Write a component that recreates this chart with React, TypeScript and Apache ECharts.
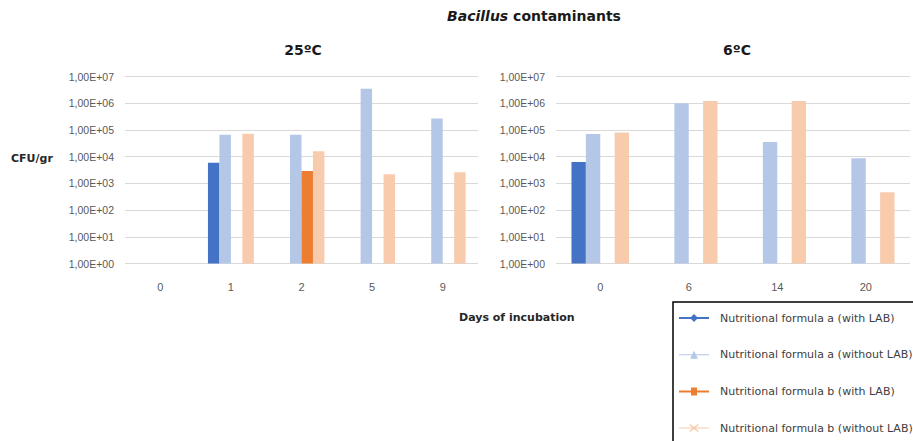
import React, { useEffect, useRef } from "react";
import * as echarts from "echarts";

const daysWarm = ["0", "1", "2", "5", "9"];
const daysCold = ["0", "6", "14", "20"];
const seriesNames = [
  "Nutritional formula a (with LAB)",
  "Nutritional formula a (without LAB)",
  "Nutritional formula b (with LAB)",
  "Nutritional formula b (without LAB)",
];
const colors = ["#4472C4", "#B4C7E7", "#ED7D31", "#F8CBAD"];

// 25ºC
const warmAWith = [null, 5.9e3, null, null, null];
const warmAWithout = [null, 6.6e4, 6.6e4, 3.5e6, 2.7e5];
const warmBWith = [null, null, 2.9e3, null, null];
const warmBWithout = [null, 7.2e4, 1.6e4, 2.2e3, 2.6e3];

// 6ºC
const coldAWith = [6.3e3, null, null, null];
const coldAWithout = [7.0e4, 1.0e6, 3.5e4, 8.7e3];
const coldBWith = [null, null, null, null];
const coldBWithout = [8.0e4, 1.2e6, 1.2e6, 4.6e2];

const legendIcons = [
  "path://M0,3 H30 V5 H0 Z M15,0 L19,4 L15,8 L11,4 Z",
  "path://M0,3.5 H30 V4.5 H0 Z M15,0 L19,8 L11,8 Z",
  "path://M0,3 H30 V5 H0 Z M12,0 H18 V8 H12 Z",
  "path://M0,3.5 H30 V4.5 H0 Z M11,0 L15,3 L19,0 L19.8,1 L16,4 L19.8,7 L19,8 L15,5 L11,8 L10.2,7 L14,4 L10.2,1 Z",
];

const FONT = "Liberation Sans";
const WIDE = "DejaVu Sans";

export default function App() {
  const ref = useRef<HTMLDivElement>(null);
  useEffect(() => {
    if (!ref.current) return;
    const chart = echarts.init(ref.current, null, { renderer: "svg" });
    const yAxisBase = (idx: number) => ({
      type: "log",
      logBase: 10,
      gridIndex: idx,
      min: 1,
      max: 1e7,
      axisLine: { show: false },
      axisTick: { show: false },
      splitLine: { lineStyle: { color: "#D9D9D9", width: 1 } },
      axisLabel: {
        color: "#595959",
        fontSize: 10.5,
        fontFamily: FONT,
        margin: 11,
        formatter: (v: number) => {
          const e = Math.round(Math.log10(v));
          return "1,00E+" + String(e).padStart(2, "0");
        },
      },
    });
    const xAxisBase = (idx: number, data: string[]) => ({
      type: "category",
      gridIndex: idx,
      data,
      axisLine: { show: false },
      axisTick: { show: false },
      axisLabel: { color: "#595959", fontSize: 11, fontFamily: FONT, margin: 18 },
    });
    const warm = [warmAWith, warmAWithout, warmBWith, warmBWithout];
    const cold = [coldAWith, coldAWithout, coldBWith, coldBWithout];
    const mk = (vals: (number | null)[], i: number, gi: number) => ({
      type: "bar",
      name: seriesNames[i],
      xAxisIndex: gi,
      yAxisIndex: gi,
      data: vals,
      itemStyle: { color: colors[i] },
      barCategoryGap: "35%",
      barGap: "0%",
    });
    chart.setOption({
      animation: false,
      grid: [
        { left: 125, width: 353, top: 76.5, height: 187 },
        { left: 556, width: 354, top: 76.5, height: 187 },
      ],
      xAxis: [xAxisBase(0, daysWarm), xAxisBase(1, daysCold)],
      yAxis: [yAxisBase(0), yAxisBase(1)],
      legend: {
        orient: "vertical",
        left: 679,
        top: 311,
        height: 300,
        padding: 0,
        itemWidth: 30,
        itemHeight: 8,
        itemGap: 22.7,
        selectedMode: false,
        data: seriesNames.map((n, i) => ({ name: n, icon: legendIcons[i] })),
        textStyle: {
          color: "#404040",
          fontSize: 11,
          fontFamily: WIDE,
          lineHeight: 14,
          padding: [0, 0, 0, 6],
        },
      },
      graphic: [
        {
          type: "text",
          x: 534,
          y: 16,
          style: {
            text: "{i|Bacillus} contaminants",
            fill: "#1a1a1a",
            font: `bold 14px '${WIDE}'`,
            align: "center",
            verticalAlign: "middle",
            rich: {
              i: { fontStyle: "italic", fontWeight: "bold", fontSize: 14, fontFamily: WIDE, fill: "#1a1a1a" },
            },
          },
        },
        {
          type: "text",
          x: 303,
          y: 50,
          style: { text: "25ºC", fill: "#1a1a1a", font: `bold 14px '${WIDE}'`, align: "center", verticalAlign: "middle" },
        },
        {
          type: "text",
          x: 737,
          y: 50,
          style: { text: "6ºC", fill: "#1a1a1a", font: `bold 14px '${WIDE}'`, align: "center", verticalAlign: "middle" },
        },
        {
          type: "text",
          x: 11,
          y: 158,
          style: { text: "CFU/gr", fill: "#262626", font: `bold 11px '${WIDE}'`, align: "left", verticalAlign: "middle" },
        },
        {
          type: "text",
          x: 459,
          y: 317,
          style: { text: "Days of incubation", fill: "#262626", font: `bold 11px '${WIDE}'`, align: "left", verticalAlign: "middle" },
        },
        {
          type: "rect",
          shape: { x: 673, y: 302, width: 300, height: 200 },
          style: { fill: "none", stroke: "#000000", lineWidth: 1.5 },
          z: -1,
        },
      ],
      series: [
        ...warm.map((v, i) => mk(v, i, 0)),
        ...cold.map((v, i) => mk(v, i, 1)),
      ],
    });
    return () => chart.dispose();
  }, []);
  return (
    <div
      ref={ref}
      style={{ position: "absolute", left: 0, top: 0, width: 913, height: 441, background: "#fff" }}
    />
  );
}
